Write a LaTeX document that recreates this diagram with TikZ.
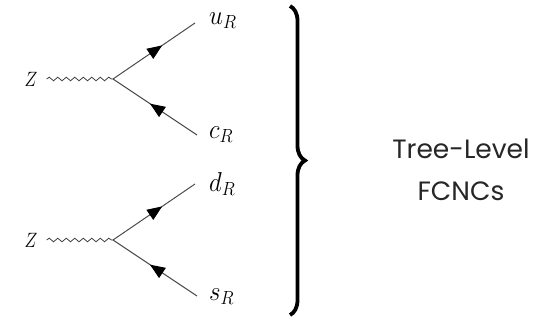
\documentclass[tikz,border=0pt]{standalone}
\usepackage{fontspec}
\newfontfamily\labelfont{Poppins}
\usetikzlibrary{decorations.pathmorphing,decorations.pathreplacing,decorations.markings,arrows.meta}
\tikzset{
  photon/.style={decorate,decoration={snake,amplitude=1.8pt,segment length=8.5pt},line width=0.8pt,draw=black!75},
  fermion/.style={draw=black!70,line width=1pt,postaction={decorate},
    decoration={markings,mark=at position #1 with {\arrow[black]{Triangle[length=15pt,width=12pt]}}}},
  mlabel/.style={inner sep=0pt,anchor=west,font=\fontsize{26}{30}\selectfont,yscale=1.1,transform shape},
  zlabel/.style={inner sep=0pt,font=\fontsize{18}{20}\selectfont,yscale=1.2,transform shape},
  bracestyle/.style={decorate,decoration={brace,amplitude=15pt},line width=3.8pt},
  txt/.style={align=center,text=black!85,font=\labelfont\fontsize{26.5}{42}\selectfont}
}
\begin{document}
\begin{tikzpicture}[x=1pt,y=-1pt]
\useasboundingbox (0,0) rectangle (545,320);
% top diagram
\node[zlabel] (z1) at (31,79) {$Z$};
\coordinate (v1) at (113,79);
\coordinate (u1) at (195,23);
\coordinate (c1) at (197,135);
\draw[photon] (z1.east) ++(9,0) coordinate (p1) -- (v1);
\draw[fermion=0.6] (v1) -- (u1);
\draw[fermion=0.56] (c1) -- (v1);
\node[mlabel] (uR) at (209,21) {$u_R$};
\node[mlabel] (cR) at (209,135) {$c_R$};
% bottom diagram
\node[zlabel] (z2) at (31,240) {$Z$};
\coordinate (v2) at (113,240);
\coordinate (d2) at (195,184);
\coordinate (s2) at (197,296);
\draw[photon] (z2.east) ++(9,0) coordinate (p2) -- (v2);
\draw[fermion=0.6] (v2) -- (d2);
\draw[fermion=0.56] (s2) -- (v2);
\node[mlabel] (dR) at (209,184) {$d_R$};
\node[mlabel] (sR) at (209,297) {$s_R$};
% brace
\coordinate (bt) at (290,6);
\coordinate (bb) at (290,315);
\draw[bracestyle] (bt) -- (bb);
\node[txt] (t) at (461,170) {Tree-Level\\FCNCs};
\end{tikzpicture}
\end{document}
